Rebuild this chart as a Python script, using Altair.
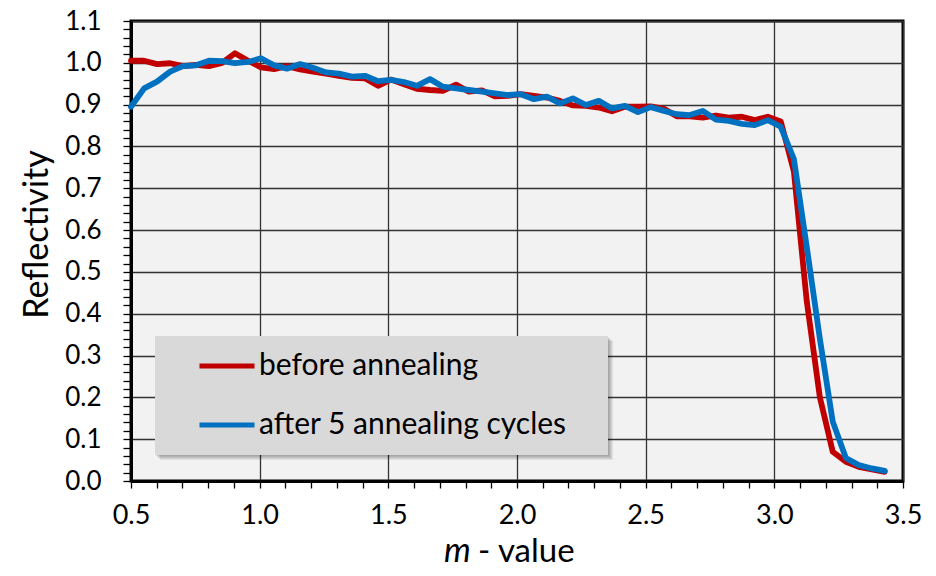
import altair as alt
import pandas as pd

# ---- data ----
m_value = [0.500, 0.551, 0.601, 0.652, 0.702, 0.753, 0.803, 0.854, 0.904, 0.955,
           1.005, 1.056, 1.106, 1.157, 1.207, 1.258, 1.308, 1.359, 1.409, 1.460,
           1.510, 1.561, 1.611, 1.662, 1.712, 1.763, 1.813, 1.864, 1.914, 1.965,
           2.015, 2.066, 2.116, 2.167, 2.217, 2.268, 2.318, 2.369, 2.419, 2.470,
           2.520, 2.571, 2.621, 2.672, 2.722, 2.773, 2.823, 2.874, 2.924, 2.975,
           3.025, 3.076, 3.126, 3.177, 3.227, 3.278, 3.328, 3.379, 3.429]

before = [1.005, 1.005, 0.997, 0.999, 0.992, 0.995, 0.992, 1.000, 1.023, 1.005,
          0.989, 0.985, 0.992, 0.984, 0.979, 0.974, 0.969, 0.964, 0.963, 0.945,
          0.960, 0.949, 0.938, 0.935, 0.933, 0.948, 0.931, 0.934, 0.920, 0.921,
          0.925, 0.921, 0.917, 0.909, 0.898, 0.897, 0.893, 0.884, 0.895, 0.895,
          0.896, 0.890, 0.872, 0.872, 0.869, 0.874, 0.869, 0.871, 0.863, 0.871,
          0.860, 0.740, 0.430, 0.200, 0.070, 0.046, 0.034, 0.028, 0.022]

after = [0.895, 0.939, 0.955, 0.979, 0.992, 0.994, 1.005, 1.004, 0.999, 1.002,
         1.011, 0.994, 0.986, 0.997, 0.988, 0.977, 0.974, 0.967, 0.969, 0.956,
         0.959, 0.954, 0.945, 0.961, 0.943, 0.939, 0.935, 0.931, 0.927, 0.923,
         0.925, 0.913, 0.919, 0.903, 0.915, 0.899, 0.909, 0.891, 0.897, 0.882,
         0.894, 0.885, 0.877, 0.875, 0.885, 0.864, 0.861, 0.854, 0.851, 0.863,
         0.847, 0.770, 0.560, 0.340, 0.142, 0.055, 0.038, 0.030, 0.024]

series_names = ["before annealing", "after 5 annealing cycles"]
series_colors = ["#C00000", "#0070C0"]

x_ticks = [0.5, 0.6, 0.7, 0.8, 0.9, 1.0, 1.1, 1.2, 1.3, 1.4, 1.5, 1.6, 1.7, 1.8, 1.9,
           2.0, 2.1, 2.2, 2.3, 2.4, 2.5, 2.6, 2.7, 2.8, 2.9, 3.0, 3.1, 3.2, 3.3, 3.4, 3.5]
y_ticks = [round(0.02 * i, 2) for i in range(56)]

n = len(m_value)
df = pd.DataFrame({
    "m": m_value + m_value,
    "R": before + after,
    "series": [series_names[0]] * n + [series_names[1]] * n,
})
one = pd.DataFrame({"k": [0]})

FONT = "Lato"
W, H = 772, 460

x_major = "abs(datum.value*2 - round(datum.value*2)) < 0.000001"
y_major = "abs(datum.value*10 - round(datum.value*10)) < 0.000001"

x_axis = alt.Axis(
    values=x_ticks,
    labelExpr=f"({x_major}) ? format(datum.value, '.1f') : ''",
    title=None,
    grid=True,
    gridColor="#333333",
    gridWidth=1.3,
    gridOpacity={"condition": {"test": x_major, "value": 1}, "value": 0},
    domainColor="black", domainWidth=3,
    tickColor="black", tickWidth=1.3, tickSize=7,
    labelFont=FONT, labelFontSize=27, labelColor="black",
    labelPadding=14, labelOverlap=False, labelFlush=False, labelBound=False,
)
y_axis = alt.Axis(
    values=y_ticks,
    labelExpr=f"({y_major}) ? format(datum.value, '.1f') : ''",
    title="Reflectivity",
    titleFont=FONT, titleFontSize=34, titleFontWeight="normal", titleColor="black",
    titleAngle=270, titleX=-94, titleY=213, titleAlign="center", titleBaseline="middle",
    grid=True,
    gridColor="#333333",
    gridWidth=1.3,
    gridOpacity={"condition": {"test": y_major, "value": 1}, "value": 0},
    domainColor="black", domainWidth=3,
    tickColor="black", tickWidth=1.3, tickSize=8,
    labelFont=FONT, labelFontSize=26, labelColor="black",
    labelPadding=22, labelOverlap=False, labelFlush=False, labelBound=False,
)

lines = alt.Chart(df).mark_line(strokeWidth=5.8, strokeCap="round", strokeJoin="round").encode(
    x=alt.X("m:Q", scale=alt.Scale(domain=[0.5, 3.5], nice=False, zero=False), axis=x_axis),
    y=alt.Y("R:Q", scale=alt.Scale(domain=[0.0, 1.1], nice=False, zero=False), axis=y_axis),
    color=alt.Color(
        "series:N",
        scale=alt.Scale(domain=series_names, range=series_colors),
        legend=alt.Legend(
            orient="none", legendX=66, legendY=315, title=None,
            symbolType="stroke", symbolStrokeWidth=5, symbolSize=3025,
            labelFont=FONT, labelFontSize=30, labelColor="black", labelOffset=2,
            padding=0, rowPadding=14, labelLimit=0,
        ),
    ),
)

shadows = [
    alt.Chart(one).mark_rect(color="black", opacity=0.07).encode(
        x=alt.value(24 + d), x2=alt.value(477 + d), y=alt.value(315 + d), y2=alt.value(434 + d)
    )
    for d in (1, 2, 3, 4, 5)
]
box = alt.Chart(one).mark_rect(color="#D9D9D9").encode(
    x=alt.value(24), x2=alt.value(477), y=alt.value(315), y2=alt.value(434)
)

title_m = alt.Chart(one).mark_text(
    text="m", font=FONT, fontSize=34, fontStyle="italic", align="left", baseline="alphabetic", color="black"
).encode(x=alt.value(313), y=alt.value(541))
title_rest = alt.Chart(one).mark_text(
    text="- value", font=FONT, fontSize=33, align="left", baseline="alphabetic", color="black"
).encode(x=alt.value(347), y=alt.value(541))

chart = alt.layer(*shadows, box, lines, title_m, title_rest).properties(
    width=W, height=H,
    autosize=alt.AutoSizeParams(type="none"),
    padding={"left": 123, "top": 13, "right": 25, "bottom": 87},
    background="white",
).configure_view(fill="#F2F2F2", stroke="black", strokeWidth=3)

chart.save("out.html", embed_options={"renderer": "svg", "actions": False})
